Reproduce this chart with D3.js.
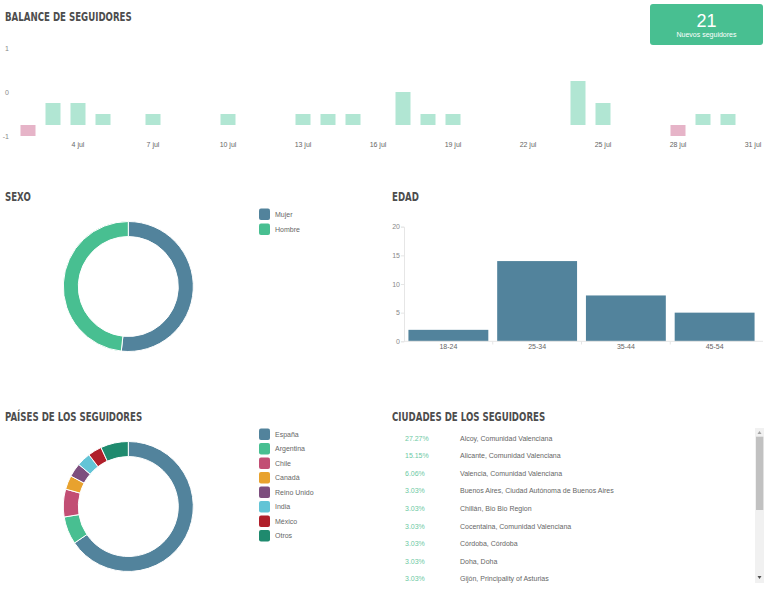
<!DOCTYPE html>
<html><head><meta charset="utf-8">
<script src="https://cdn.jsdelivr.net/npm/d3@7"></script>
<style>
html,body{margin:0;padding:0;background:#fff;}
svg{display:block;}
.title{font-family:"Liberation Sans Narrow","DejaVu Sans Condensed",sans-serif;font-weight:bold;font-size:12px;fill:#4d4d4d;}
.small{font-family:"Liberation Sans",Arial,sans-serif;font-size:7px;fill:#666;}
</style></head><body>
<svg id="c" width="777" height="611"></svg>
<script>
// ---- data ----
const balanceDays = [2,3,4,5,7,10,13,14,15,17,18,19,24,25,28,29,30];
const balanceValues = [-1,2,2,1,1,1,1,1,1,3,1,1,4,2,-1,1,1];
const balanceTickDays = [4,7,10,13,16,19,22,25,28,31];
const balanceTickLabels = ["4 jul","7 jul","10 jul","13 jul","16 jul","19 jul","22 jul","25 jul","28 jul","31 jul"];
const balanceAxisTicks = [1,0,-1];
const newFollowers = 21;
const newFollowersLabel = "Nuevos seguidores";

const sexoLabels = ["Mujer","Hombre"];
const sexoValues = [15,14];
const sexoColors = ["#52839c","#48bf91"];

const edadLabels = ["18-24","25-34","35-44","45-54"];
const edadValues = [2,14,8,5];
const edadTicks = [0,5,10,15,20];

const paisLabels = ["España","Argentina","Chile","Canadá","Reino Unido","India","México","Otros"];
const paisValues = [19,2,2,1,1,1,1,2];
const paisColors = ["#52839c","#48bf91","#c24e74","#e8a22e","#7d4e7e","#63c4d6","#b01f2a","#1f8a6e"];

const ciudadPct = ["27.27%","15.15%","6.06%","3.03%","3.03%","3.03%","3.03%","3.03%","3.03%"];
const ciudadNames = ["Alcoy, Comunidad Valenciana","Alicante, Comunidad Valenciana","Valencia, Comunidad Valenciana","Buenos Aires, Ciudad Autónoma de Buenos Aires","Chillán, Bio Bio Region","Cocentaina, Comunidad Valenciana","Córdoba, Córdoba","Doha, Doha","Gijón, Principality of Asturias"];

const svg = d3.select("#c");
function title(x,y,t){
  svg.append("text").attr("class","title").attr("transform",`translate(${x},${y}) scale(0.8,1)`).text(t);
}

// ---- Balance ----
title(5,21,"BALANCE DE SEGUIDORES");
const bx = d3.scaleLinear().domain([1,31]).range([3,753]);
const byAxis = d3.scaleLinear().domain([-1,1]).range([136.7,48.5]);
const byBar = d3.scaleLinear().domain([0,4]).range([125,81]);
const bw = 15;
svg.append("g").selectAll("rect").data(balanceDays).join("rect")
  .attr("x",(d)=>bx(d)-bw/2)
  .attr("y",(d,i)=>Math.min(byBar(balanceValues[i]),byBar(0)))
  .attr("width",bw)
  .attr("height",(d,i)=>Math.abs(byBar(balanceValues[i])-byBar(0)))
  .attr("fill",(d,i)=>balanceValues[i]<0?"#e6b4c8":"#b1e6d3");
svg.append("g").selectAll("text").data(balanceAxisTicks).join("text")
  .attr("class","small").attr("x",9).attr("y",d=>byAxis(d)).attr("dy","0.35em")
  .attr("text-anchor","end").style("fill","#888").text(d=>d);
svg.append("g").selectAll("text").data(balanceTickDays).join("text")
  .attr("class","small").attr("x",d=>bx(d)).attr("y",146.5)
  .attr("text-anchor","middle").text((d,i)=>balanceTickLabels[i]);

// box
svg.append("rect").attr("x",650).attr("y",4).attr("width",113).attr("height",41).attr("rx",3).attr("fill","#48bf91");
svg.append("text").attr("x",706.5).attr("y",27).attr("text-anchor","middle")
  .attr("font-family","Liberation Sans, Arial, sans-serif").attr("font-size",18).attr("fill","#fff").text(newFollowers);
svg.append("text").attr("x",706.5).attr("y",36.5).attr("text-anchor","middle")
  .attr("font-family","Liberation Sans, Arial, sans-serif").attr("font-size",7).attr("fill","#fff").text(newFollowersLabel);

// ---- donut helper ----
function donut(cx,cy,values,colors){
  const pie = d3.pie().sort(null).value(d=>d);
  const arc = d3.arc().innerRadius(50).outerRadius(65);
  svg.append("g").attr("transform",`translate(${cx},${cy})`)
    .selectAll("path").data(pie(values)).join("path")
    .attr("d",arc).attr("fill",(d,i)=>colors[i]).attr("stroke","#fff").attr("stroke-width",1);
}
function legend(x,y0,labels,colors,step){
  const g = svg.append("g");
  g.selectAll("rect").data(labels).join("rect")
    .attr("x",x).attr("y",(d,i)=>y0+i*step-5.8).attr("width",11).attr("height",11.6)
    .attr("rx",2).attr("fill",(d,i)=>colors[i]);
  g.selectAll("text").data(labels).join("text")
    .attr("class","small").attr("x",x+16).attr("y",(d,i)=>y0+i*step).attr("dy","0.35em").text(d=>d);
}

// ---- Sexo ----
title(5,201,"SEXO");
donut(128.3,286.5,sexoValues,sexoColors);
legend(259,214.2,sexoLabels,sexoColors,15);

// ---- Edad ----
title(392,201,"EDAD");
const ex = d3.scaleBand().domain(edadLabels).range([404,759]).paddingInner(0.1).paddingOuter(0.05);
const ey = d3.scaleLinear().domain([0,20]).range([341.3,226.7]);
const edadG = svg.append("g");
edadG.selectAll("rect").data(edadLabels).join("rect")
  .attr("x",d=>ex(d)).attr("y",(d,i)=>ey(edadValues[i]))
  .attr("width",ex.bandwidth()).attr("height",(d,i)=>ey(0)-ey(edadValues[i]))
  .attr("fill","#52839c");
const yAx = svg.append("g").attr("transform","translate(404,0)")
  .call(d3.axisLeft(ey).tickValues(edadTicks).tickSize(3).tickPadding(1));
yAx.selectAll("path,line").attr("stroke","#e6e6e6");
yAx.selectAll("text").attr("class","small").style("fill","#888").attr("font-size",null).attr("font-family",null);
const xAx = svg.append("g").attr("transform","translate(0,341.3)")
  .call(d3.axisBottom(ex).tickSize(0).tickPadding(3));
xAx.select("path").attr("stroke","#e6e6e6").attr("d","M404,0H763");
xAx.selectAll("text").attr("class","small").attr("font-size",null).attr("font-family",null);
// boundary ticks between categories
svg.append("g").selectAll("line").data(edadLabels.slice(1)).join("line")
  .attr("x1",d=>ex(d)-ex.step()*ex.paddingInner()/2).attr("x2",d=>ex(d)-ex.step()*ex.paddingInner()/2)
  .attr("y1",341.3).attr("y2",344.5).attr("stroke","#e6e6e6");

// ---- Países ----
title(5,421,"PAÍSES DE LOS SEGUIDORES");
donut(128.3,506.5,paisValues,paisColors);
legend(259,434.2,paisLabels,paisColors,14.5);

// ---- Ciudades ----
title(392,421,"CIUDADES DE LOS SEGUIDORES");
const rowY = d3.scaleLinear().domain([0,8]).range([438.3,578.7]);
const cg = svg.append("g");
cg.selectAll("text.p").data(ciudadPct).join("text").attr("class","small p")
  .attr("x",405).attr("y",(d,i)=>rowY(i)).attr("dy","0.35em").style("fill","#6cc9a3").text(d=>d);
cg.selectAll("text.n").data(ciudadNames).join("text").attr("class","small n")
  .attr("x",460).attr("y",(d,i)=>rowY(i)).attr("dy","0.35em").text(d=>d);
// scrollbar
svg.append("rect").attr("x",755).attr("y",428).attr("width",9).attr("height",155).attr("fill","#f1f1f1");
svg.append("rect").attr("x",756).attr("y",436.7).attr("width",7.3).attr("height",73.3).attr("fill","#c1c1c1");
svg.append("path").attr("d","M757.5,434 L761.5,434 L759.5,431 Z").attr("fill","#a3a3a3");
svg.append("path").attr("d","M757.5,576 L761.5,576 L759.5,579 Z").attr("fill","#505050");
</script>
</body></html>
